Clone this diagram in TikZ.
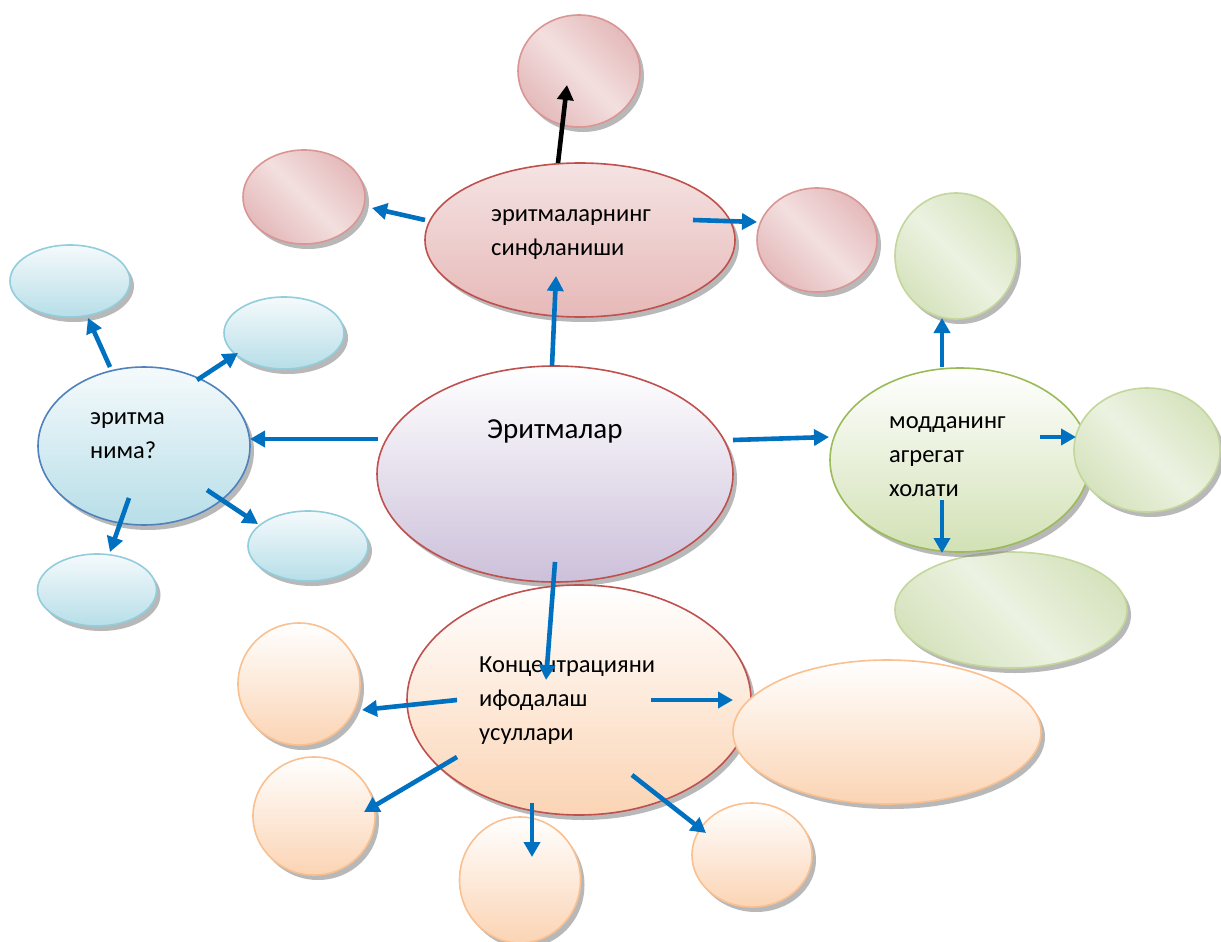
\documentclass[tikz,border=0pt]{standalone}
\usepackage{fontspec}
\setmainfont{Carlito}
\usetikzlibrary{shapes.geometric,shadows,arrows.meta}

\definecolor{redline}{HTML}{C0504D}
\definecolor{redlight}{HTML}{D99694}
\definecolor{redtop}{HTML}{F5E3E3}
\definecolor{redbot}{HTML}{E6B9B8}
\definecolor{reddark}{HTML}{D69597}
\definecolor{redpale}{HTML}{F3DFDF}
\definecolor{violetbot}{HTML}{CCC0DA}
\definecolor{blueline}{HTML}{4F81BD}
\definecolor{bluelight}{HTML}{92CDDC}
\definecolor{bluetop}{HTML}{F5FAFC}
\definecolor{bluebot}{HTML}{B7DEE8}
\definecolor{greenline}{HTML}{9BBB59}
\definecolor{greenlight}{HTML}{C3D69B}
\definecolor{greendark}{HTML}{D2E1B5}
\definecolor{greenband}{HTML}{C0D49B}
\definecolor{greenpale}{HTML}{ECF2E1}
\definecolor{peachline}{HTML}{FAC090}
\definecolor{peachbot}{HTML}{FBD4B4}
\definecolor{arrblue}{HTML}{0070C0}
\definecolor{shadowgray}{HTML}{7F7F7F}

% diagonal band shadings for the small satellite bubbles
\pgfdeclarehorizontalshading{redbandshade}{100bp}{color(0bp)=(reddark);
  color(50bp)=(redpale); color(100bp)=(reddark)}
\pgfdeclarehorizontalshading{greenbandshade}{100bp}{color(0bp)=(greenband);
  color(50bp)=(greenpale); color(100bp)=(greenband)}

\begin{document}
\begin{tikzpicture}[x=1pt,y=-1pt,
  bub/.style={ellipse, draw, line width=1.6pt, inner sep=0pt,
    drop shadow={shadow xshift=4pt, shadow yshift=-5pt, fill=shadowgray, opacity=0.55}},
  redmain/.style={bub, draw=redline, top color=redtop, bottom color=redbot},
  redsat/.style={bub, draw=redlight, shading=redbandshade, shading angle=45},
  centre/.style={bub, draw=redline, top color=white, bottom color=violetbot},
  bluemain/.style={bub, draw=blueline, top color=bluetop, bottom color=bluebot},
  bluesat/.style={bub, draw=bluelight, top color=bluetop, bottom color=bluebot},
  greenmain/.style={bub, draw=greenline, top color=white, bottom color=greendark},
  greensat/.style={bub, draw=greenlight, shading=greenbandshade, shading angle=45},
  peachmain/.style={bub, draw=redline, top color=white, bottom color=peachbot},
  peachsat/.style={bub, draw=peachline, top color=white, bottom color=peachbot},
  label/.style={anchor=base west, inner sep=0pt, font=\fontsize{24.5}{34}\selectfont, align=left},
  arr/.style={draw=arrblue, line width=4.6pt, -{Triangle[length=15pt,width=16pt]}},
  blackarr/.style={arr, draw=black, fill=black}]

\useasboundingbox (0,0) rectangle (1221,942);
\clip (0,0) rectangle (1221,942);
\fill[white] (0,0) rectangle (1221,942);

% ---- red group: classification of solutions
\node[redsat, minimum width=122pt, minimum height=112pt] (rtop) at (579,71) {};
\node[redsat, minimum width=122pt, minimum height=94pt] (rleft) at (304,197) {};
\node[redsat, minimum width=120pt, minimum height=104pt] (rright) at (817,240) {};
\node[redmain, minimum width=310pt, minimum height=154pt] (red) at (580,240) {};

% ---- blue group: what is a solution
\node[bluesat, minimum width=120pt, minimum height=72pt] (btl) at (70,281) {};
\node[bluesat, minimum width=120pt, minimum height=72pt] (btr) at (284,333) {};
\node[bluesat, minimum width=120pt, minimum height=70pt] (bbr) at (308,546) {};
\node[bluesat, minimum width=119pt, minimum height=72pt] (bbl) at (97,590) {};
\node[bluemain, minimum width=212pt, minimum height=158pt] (blue) at (144,446) {};

% ---- green group: state of matter
\node[greensat, minimum width=122pt, minimum height=126pt] (gtop) at (956,256) {};
\node[greensat, minimum width=232pt, minimum height=116pt] (gbot) at (1011,610) {};
\node[greenmain, minimum width=260pt, minimum height=184pt] (green) at (960,460) {};
\node[greensat, minimum width=146pt, minimum height=124pt] (gright) at (1147,450) {};

% ---- centre
\node[centre, minimum width=356pt, minimum height=216pt] (centre) at (555,474) {};

% ---- peach group: ways of expressing concentration
\node[peachsat, minimum width=122pt, minimum height=122pt] (pl1) at (299,684) {};
\node[peachsat, minimum width=122pt, minimum height=118pt] (pl2) at (314,816) {};
\node[peachsat, minimum width=121pt, minimum height=126pt] (pb) at (520,880) {};
\node[peachsat, minimum width=120pt, minimum height=104pt] (pbr) at (752,855) {};
\node[peachmain, minimum width=344pt, minimum height=230pt] (peach) at (579,700) {};
\node[peachsat, minimum width=308pt, minimum height=144pt] (pr) at (887,732) {};

% ---- texts (multi-line labels sit on the baseline of their last line)
\node[label, font=\fontsize{29}{35}\selectfont] (tcentre) at (487,438) {Эритмалар};
\node[label] (tred) at (491,255) {эритмаларнинг\\синфланиши};
\node[label] (tblue) at (90,458) {эритма\\нима?};
\node[label] (tgreen) at (889,496) {модданинг\\агрегат\\холати};
\node[label] (tpeach) at (479,740) {Концентрацияни\\ифодалаш\\усуллари};

% ---- connector end points
\coordinate (c1a) at (552,366);  \coordinate (c1b) at (556,276);
\coordinate (r0a) at (558,163);  \coordinate (r0b) at (567,85);
\coordinate (r1a) at (425,220);  \coordinate (r1b) at (372,208);
\coordinate (r2a) at (693,220);  \coordinate (r2b) at (757,222);
\coordinate (c2a) at (378,439);  \coordinate (c2b) at (250,439);
\coordinate (b1a) at (110,367);  \coordinate (b1b) at (88,318);
\coordinate (b2a) at (197,380);  \coordinate (b2b) at (238,353);
\coordinate (b3a) at (207,490);  \coordinate (b3b) at (258,524);
\coordinate (b4a) at (129,498);  \coordinate (b4b) at (110,552);
\coordinate (c3a) at (733,440);  \coordinate (c3b) at (829,437);
\coordinate (g1a) at (942,367);  \coordinate (g1b) at (942,318);
\coordinate (g2a) at (1040,437); \coordinate (g2b) at (1076,437);
\coordinate (g3a) at (942,500);  \coordinate (g3b) at (942,553);
\coordinate (c4a) at (555,562);  \coordinate (c4b) at (546,680);
\coordinate (p1a) at (457,700);  \coordinate (p1b) at (362,710);
\coordinate (p2a) at (457,757);  \coordinate (p2b) at (364,812);
\coordinate (p3a) at (532,803);  \coordinate (p3b) at (532,857);
\coordinate (p4a) at (632,775);  \coordinate (p4b) at (706,833);
\coordinate (p5a) at (651,700);  \coordinate (p5b) at (733,700);

% ---- connectors
\draw[arr] (c1a) -- (c1b);
\draw[blackarr] (r0a) -- (r0b);
\draw[arr] (r1a) -- (r1b);
\draw[arr] (r2a) -- (r2b);
\draw[arr] (c2a) -- (c2b);
\draw[arr] (b1a) -- (b1b);
\draw[arr] (b2a) -- (b2b);
\draw[arr] (b3a) -- (b3b);
\draw[arr] (b4a) -- (b4b);
\draw[arr] (c3a) -- (c3b);
\draw[arr] (g1a) -- (g1b);
\draw[arr] (g2a) -- (g2b);
\draw[arr] (g3a) -- (g3b);
\draw[arr] (c4a) -- (c4b);
\draw[arr] (p1a) -- (p1b);
\draw[arr] (p2a) -- (p2b);
\draw[arr] (p3a) -- (p3b);
\draw[arr] (p4a) -- (p4b);
\draw[arr] (p5a) -- (p5b);
\end{tikzpicture}
\end{document}
